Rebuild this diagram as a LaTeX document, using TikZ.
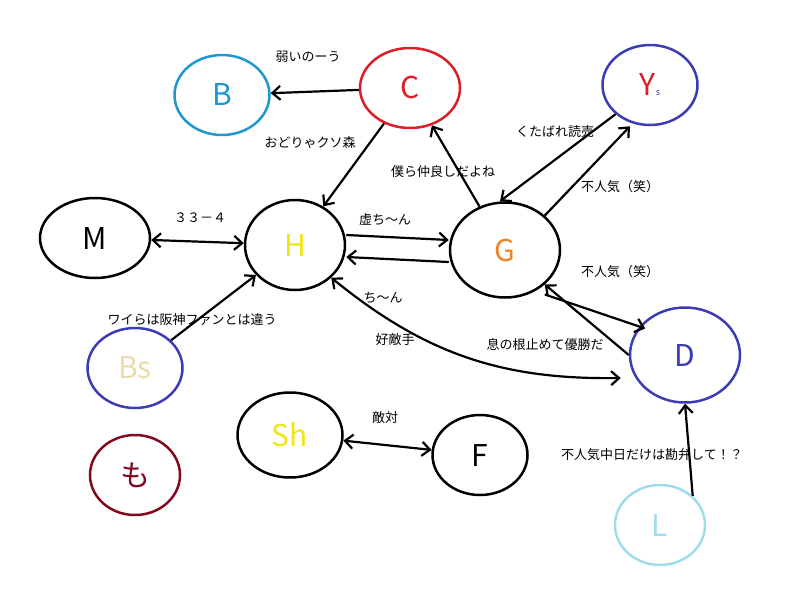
\documentclass[tikz,border=0pt]{standalone}
\usepackage{fontspec}
\setmainfont{Noto Sans CJK JP}
\usetikzlibrary{arrows.meta, positioning, shapes.geometric}
\definecolor{bcyan}{RGB}{30,150,210}
\definecolor{cred}{RGB}{220,30,40}
\definecolor{pblue}{RGB}{60,60,180}
\definecolor{hyel}{RGB}{240,230,20}
\definecolor{gora}{RGB}{240,130,40}
\definecolor{beige}{RGB}{235,220,170}
\definecolor{maroon}{RGB}{130,10,30}
\definecolor{lcyan}{RGB}{160,220,235}
\begin{document}
\begin{tikzpicture} [x=1pt, y=-1pt,
          team/.style = {ellipse, draw, line width=2.5pt, inner sep=0pt,
              minimum width=95pt, minimum height=80pt, font=\fontsize{30}{30}\selectfont},
          rel/.style = {line width=2.2pt, -{Straight Barb[length=8pt,width=14pt]}},
          both/.style = {rel, {Straight Barb[length=8pt,width=14pt]}-{Straight Barb[length=8pt,width=14pt]}},
          lbl/.style = {font=\fontsize{13}{15}\selectfont}
          ]
          \useasboundingbox (0,0) rectangle (800,600);

          % Teams
          \node (b) [team, draw=bcyan, text=bcyan] at (222,95) {B};
          \node (c) [team, draw=cred, text=cred, minimum width=100pt] at (410,88) {C};
          \node (ys) [team, draw=pblue, text=cred] at (650,85) {Y\textcolor{pblue}{\small s}};
          \node (m) [team, minimum width=110pt] at (95,238) {M};
          \node (h) [team, text=hyel, minimum width=100pt, minimum height=90pt] at (295,245) {H};
          \node (g) [team, text=gora, minimum width=110pt, minimum height=95pt] at (505,250) {G};
          \node (d) [team, draw=pblue, text=pblue, minimum width=110pt, minimum height=95pt] at (685,355) {D};
          \node (bs) [team, draw=pblue, text=beige] at (135,368) {Bs};
          \node (e) [team, draw=maroon, text=maroon, minimum width=90pt] at (135,475) {も};
          \node (sh) [team, text=hyel, minimum width=105pt, minimum height=85pt] at (290,435) {Sh};
          \node (f) [team] at (480,455) {F};
          \node (l) [team, draw=lcyan, text=lcyan, minimum width=90pt] at (660,525) {L};

          % Links
          \draw [rel] (c) -- (b);
          \draw [rel] (c) -- (h);
          \draw [rel] (g) -- (c);
          \draw [rel] (ys.south west) -- ([xshift=-5pt]g.north);
          \draw [rel] (g.north east) -- ([xshift=-20pt]ys.south);
          \draw [both] (m) -- (h);
          \draw [rel] ([yshift=10pt]h.east) -- ([yshift=10pt]g.west);
          \draw [rel] ([yshift=-12pt]g.west) -- ([yshift=-12pt]h.east);
          \draw [rel] ([yshift=-10pt]g.south east) -- ([yshift=-8pt]d.north west);
          \draw [rel] (d.west) -- (g.south east);
          \draw [both] (h.south east) to[bend right=20] ([xshift=-8pt]d.west |- 0,378);
          \draw [rel] (bs) -- (h);
          \draw [both] (sh) -- (f);
          \draw [rel] (l.north east) -- (d.south);

          % Labels
          \node (t1) [lbl] at (308,57) {弱いのーう};
          \node (t2) [lbl] at (310,143) {おどりゃクソ森};
          \node (t3) [lbl] at (443,172) {僕ら仲良しだよね};
          \node (t4) [lbl] at (555,132) {くたばれ読売};
          \node (t5) [lbl] at (620,187) {不人気（笑）};
          \node (t6) [lbl] at (200,218) {３３－４};
          \node (t7) [lbl] at (385,220) {虚ち〜ん};
          \node (t8) [lbl] at (383,298) {ち〜ん};
          \node (t9) [lbl] at (620,272) {不人気（笑）};
          \node (t10) [lbl] at (192,320) {ワイらは阪神ファンとは違う};
          \node (t11) [lbl] at (395,340) {好敵手};
          \node (t12) [lbl] at (545,345) {息の根止めて優勝だ};
          \node (t13) [lbl] at (385,418) {敵対};
          \node (t14) [lbl] at (652,455) {不人気中日だけは勘弁して！？};
\end{tikzpicture}
\end{document}
